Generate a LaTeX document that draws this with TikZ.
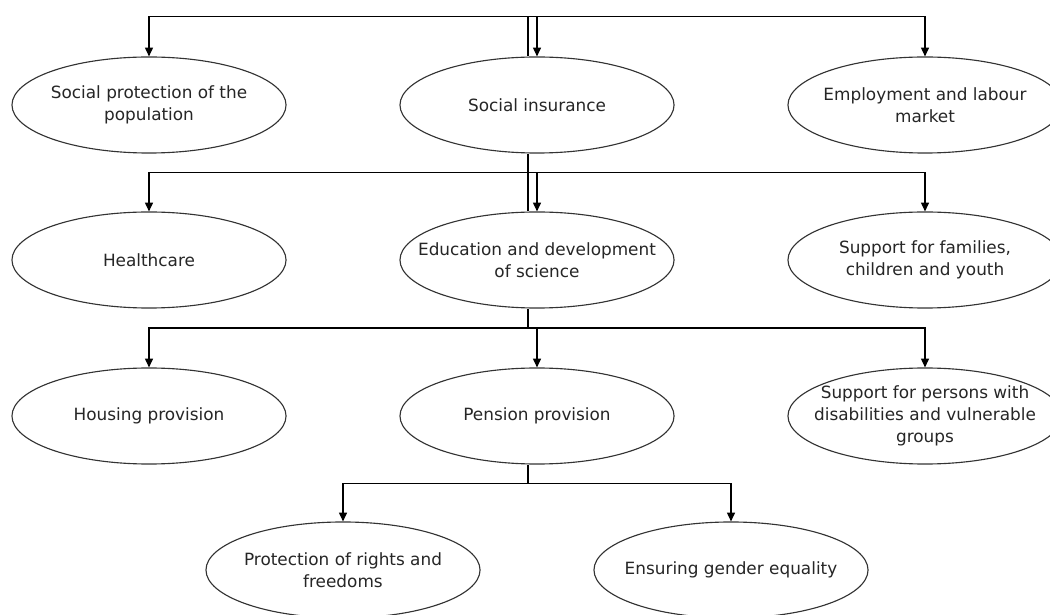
\documentclass[tikz,border=0pt]{standalone}
\usepackage{fontspec}
\setmainfont{DejaVu Sans}
\usetikzlibrary{arrows.meta,shapes.geometric}

\tikzset{
  blob/.style={ellipse, draw=black!80, fill=white, line width=.8pt, minimum width=6.85cm, minimum height=2.4cm, inner sep=0pt},
  every label/.style={align=center, text=black!85}
}

\begin{document}
\begin{tikzpicture}[x=.025cm, y=-.025cm, line width=.85pt, >={Triangle[length=.22cm,width=.2cm]}, font=\fontsize{12}{15.5}\selectfont]

\useasboundingbox (0,0) rectangle (1050,615);

\node [blob, label={center:Social protection of the\\population}] (prot) at (149,105) {};
\node [blob, label={center:Social insurance}] (ins) at (537,105) {};
\node [blob, label={center:Employment and labour\\market}] (emp) at (925,105) {};
\node [blob, label={center:Healthcare}] (health) at (149,260) {};
\node [blob, label={center:Education and development\\of science}] (edu) at (537,260) {};
\node [blob, label={center:Support for families,\\children and youth}] (fam) at (925,260) {};
\node [blob, label={center:Housing provision}] (house) at (149,416) {};
\node [blob, label={center:Pension provision}] (pens) at (537,416) {};
\node [blob, label={center:Support for persons with\\disabilities and vulnerable\\groups}] (dis) at (925,416) {};
\node [blob, label={center:Protection of rights and\\freedoms}] (rights) at (343,570) {};
\node [blob, label={center:Ensuring gender equality}] (gender) at (731,570) {};

\coordinate (b1) at (528,16.5);
\coordinate (b2) at (528,172.5);
\coordinate (b3) at (528,328);
\coordinate (b4) at (528,483.5);

\draw [->] (b1) -| (prot);
\draw [->] (b1) -| (ins);
\draw [->] (b1) -| (emp);
\draw (b1) -- (b1 |- ins.north);

\draw (ins.south -| b2) -- (b2);
\draw [->] (b2) -| (health);
\draw [->] (b2) -| (edu);
\draw [->] (b2) -| (fam);
\draw (b2) -- (b2 |- edu.north);

\draw (edu.south -| b3) -- (b3);
\draw [->] (b3) -| (house);
\draw [->] (b3) -| (pens);
\draw [->] (b3) -| (dis);

\draw (pens.south -| b4) -- (b4);
\draw [->] (b4) -| (rights);
\draw [->] (b4) -| (gender);

\end{tikzpicture}
\end{document}
